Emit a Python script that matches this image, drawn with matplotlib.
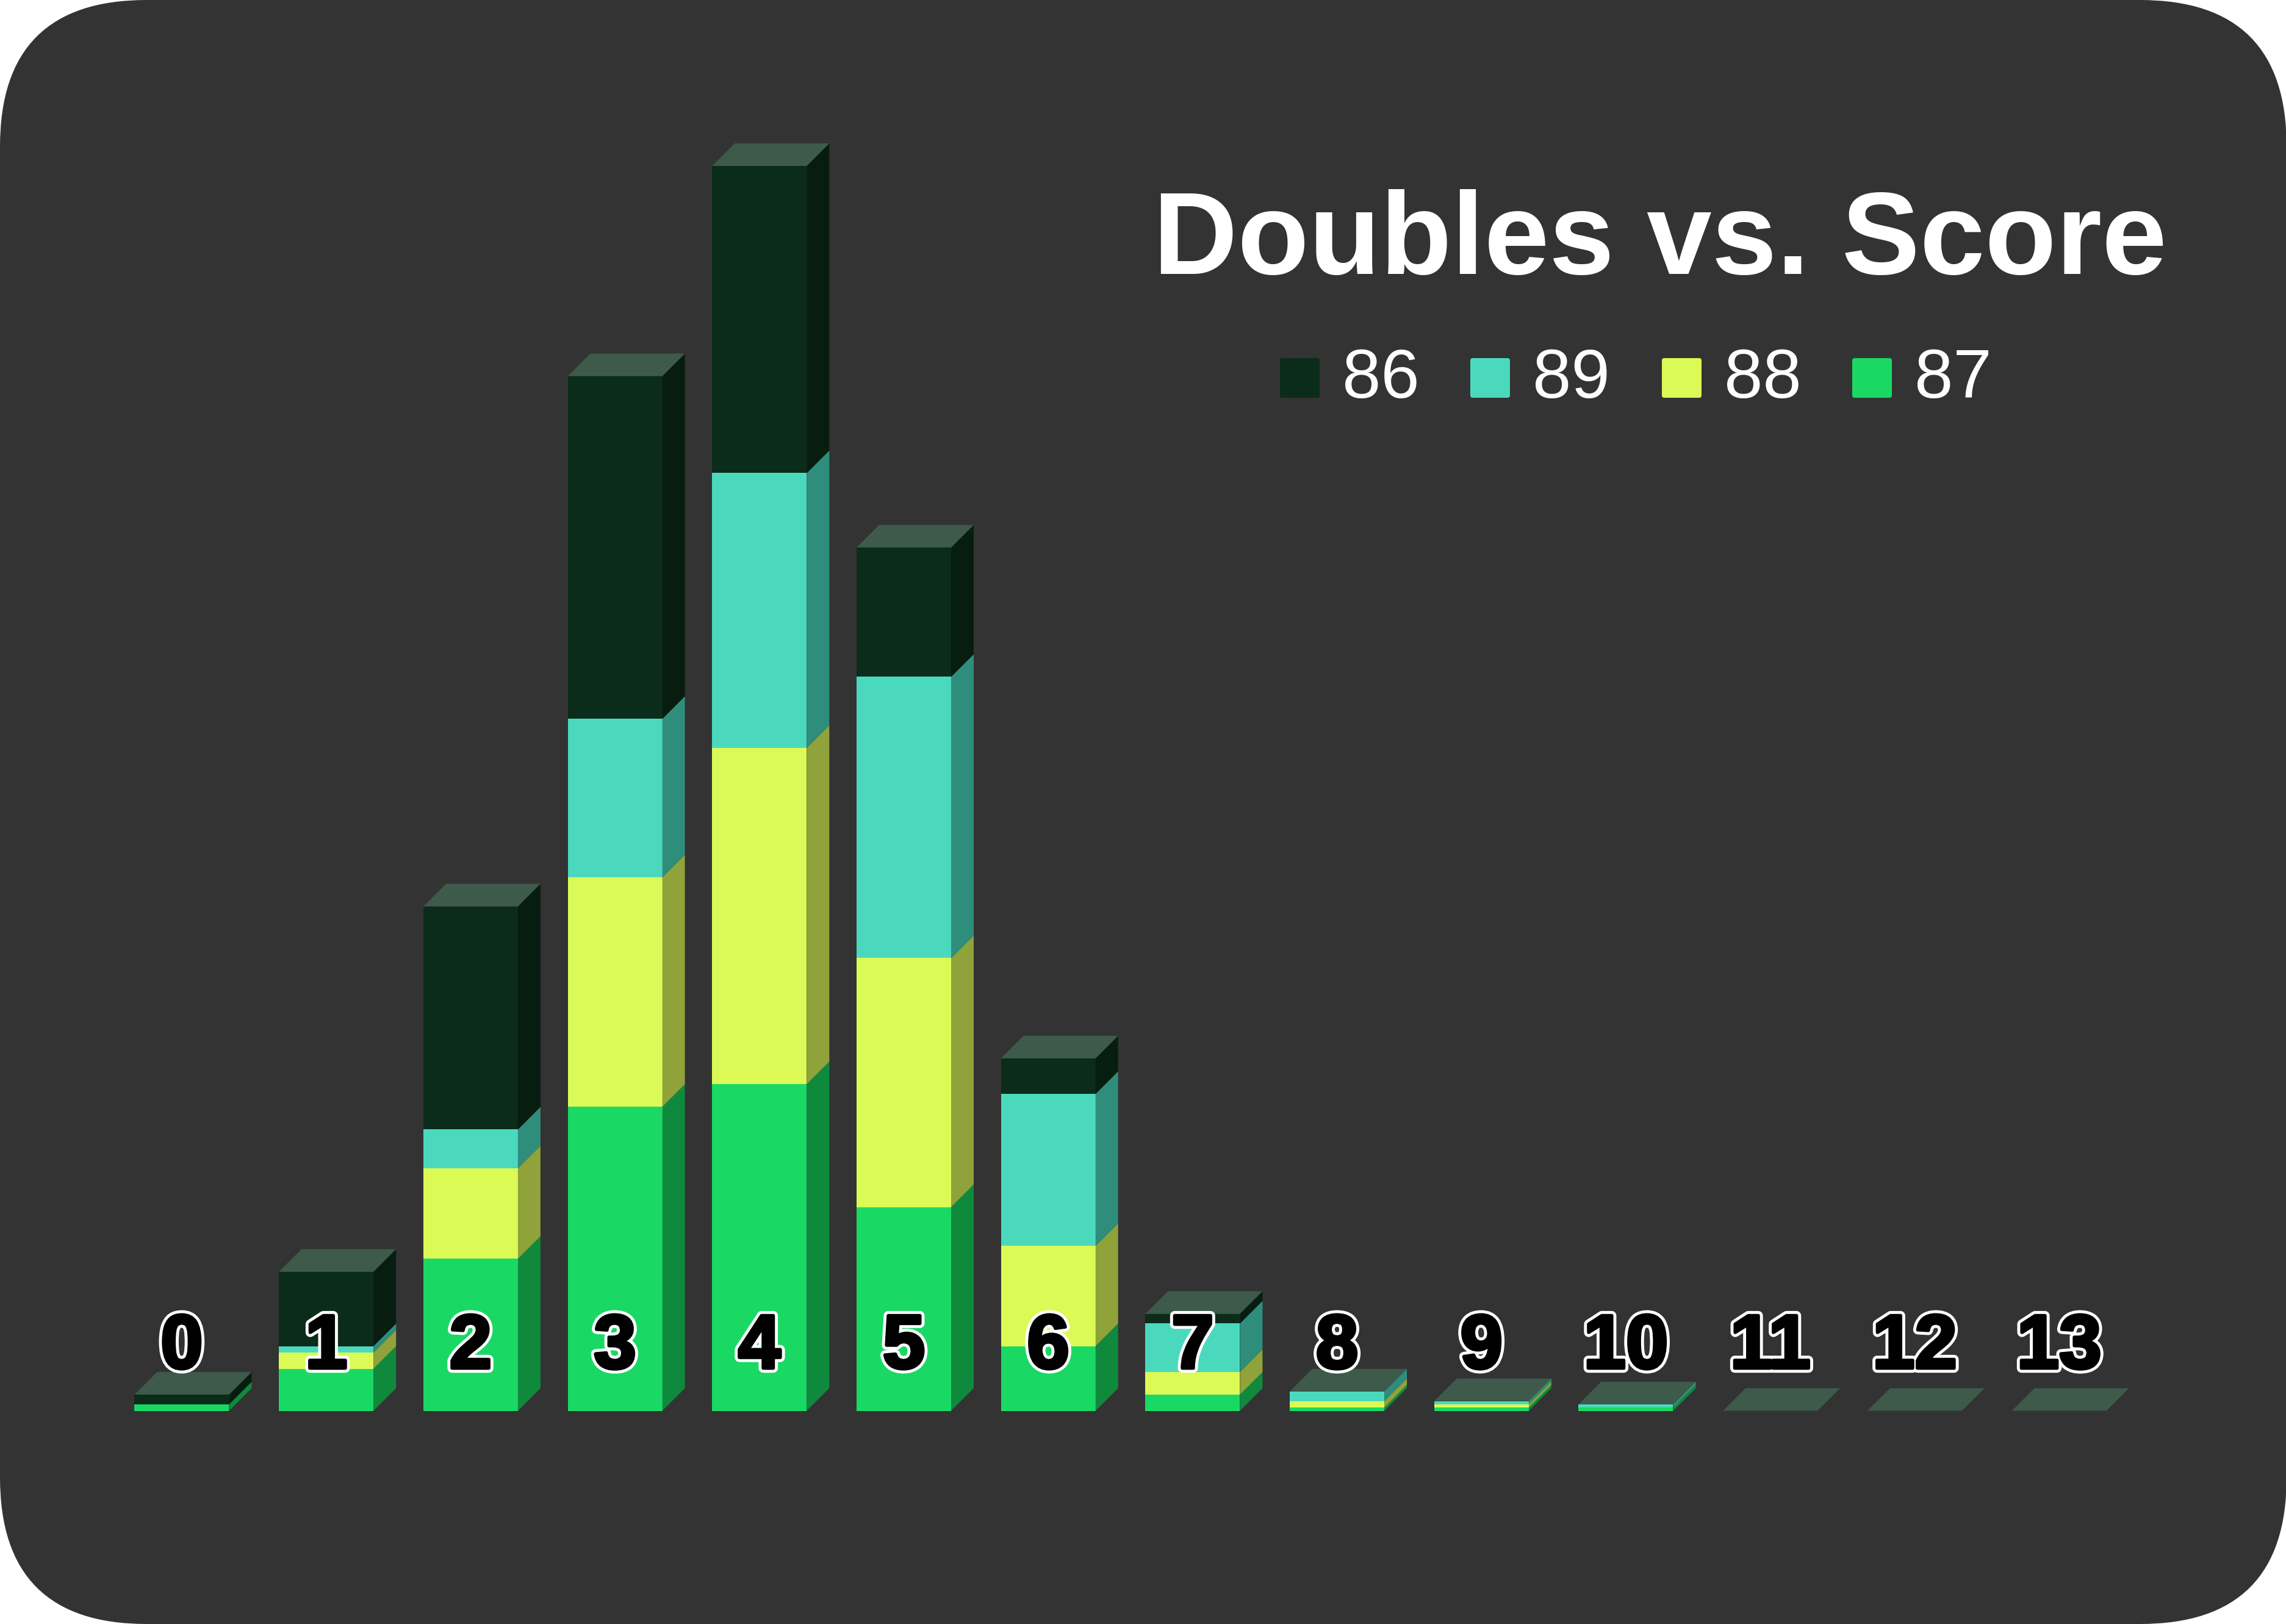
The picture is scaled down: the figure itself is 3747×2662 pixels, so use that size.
import matplotlib
matplotlib.use("Agg")
import matplotlib.pyplot as plt
from matplotlib.patches import FancyBboxPatch, Polygon
import matplotlib.patheffects as pe

# datos del grafico
categorias = [str(i) for i in range(14)]
series = ["86", "89", "88", "87"]          # orden de la leyenda
s87 = [2, 13, 47, 94, 101, 63, 20, 5, 1, 1, 1, 0, 0, 0]   # abajo
s88 = [0, 5, 28, 71, 104, 77, 31, 7, 2, 1, 0, 0, 0, 0]
s89 = [0, 2, 12, 49, 85, 87, 47, 15, 3, 1, 1, 0, 0, 0]
s86 = [3, 23, 69, 106, 95, 40, 11, 3, 0, 0, 0, 0, 0, 0]   # arriba

# colores: frente, lado
colores = {
    "87": ("#19d964", "#0f8a3d"),
    "88": ("#dcfa56", "#90a23a"),
    "89": ("#4bd9be", "#2f8e7b"),
    "86": ("#0b2b1b", "#071d10"),
}
color_tapa = "#3d5a4a"
fondo = "#333333"

W, H = 3748, 2662
PASO = 236.7      # px por categoria
UNIDAD = 5.3      # px por valor
X0 = 298          # px centro de la barra 0
BASE = 349.5      # px de la base desde abajo
ANCHO = 155 / PASO
DX = 37 / PASO
DY = 37 / UNIDAD

fig = plt.figure(figsize=(W / 100, H / 100), dpi=100)
fig.patch.set_facecolor("white")

# fondo redondeado
bg = fig.add_axes([0, 0, 1, 1])
bg.set_xlim(0, W)
bg.set_ylim(0, H)
bg.axis("off")
bg.add_patch(FancyBboxPatch((0, 0), W, H, boxstyle="round,pad=0,rounding_size=240",
                            facecolor=fondo, edgecolor="none"))

ax = fig.add_axes([0, 0, 1, 1])
ax.patch.set_alpha(0)
ax.set_xlim(-X0 / PASO, (W - X0) / PASO)
ax.set_ylim(-BASE / UNIDAD, (H - BASE) / UNIDAD)
ax.axis("off")

pila = [("87", s87), ("88", s88), ("89", s89), ("86", s86)]
xs = list(range(len(categorias)))
abajo = [0] * len(xs)
for nombre, vals in pila:
    frente, lado = colores[nombre]
    ax.bar(xs, vals, bottom=abajo, width=ANCHO, color=frente, linewidth=0, zorder=2)
    for i, v in enumerate(vals):
        if v <= 0:
            continue
        xr = i + ANCHO / 2
        b, t = abajo[i], abajo[i] + v
        ax.add_patch(Polygon([(xr, b), (xr + DX, b + DY), (xr + DX, t + DY), (xr, t)],
                             closed=True, facecolor=lado, edgecolor="none", zorder=2))
    abajo = [a + v for a, v in zip(abajo, vals)]

# tapas
for i, t in enumerate(abajo):
    xl, xr = i - ANCHO / 2, i + ANCHO / 2
    ax.add_patch(Polygon([(xl, t), (xr, t), (xr + DX, t + DY), (xl + DX, t + DY)],
                         closed=True, facecolor=color_tapa, edgecolor="none", zorder=3))

# etiquetas de categoria (negro grueso con borde blanco)
contorno = [pe.Stroke(linewidth=11, foreground="white"),
            pe.Stroke(linewidth=4, foreground="black"),
            pe.Normal()]
for i, c in enumerate(categorias):
    ax.text(i, 13.2, c, ha="center", va="baseline", fontsize=90,
            family="Liberation Sans", weight="bold", color="black", zorder=5,
            path_effects=contorno)

# titulo
bg.text(1890, H - 449, "Doubles vs. Score", ha="left", va="baseline",
        fontsize=138, family="Liberation Sans", weight="bold", color="white")

# leyenda
leg_x = [2098, 2410, 2724, 3036]
for lx, nombre in zip(leg_x, series):
    bg.add_patch(FancyBboxPatch((lx, H - 652), 65, 65, boxstyle="round,pad=0,rounding_size=4",
                                facecolor=colores[nombre][0], edgecolor="none"))
    bg.text(lx + 102, H - 652, nombre, ha="left", va="baseline", fontsize=82,
            family="Liberation Sans", color="white")

fig.savefig("out.png", dpi=100, facecolor=fig.get_facecolor())
